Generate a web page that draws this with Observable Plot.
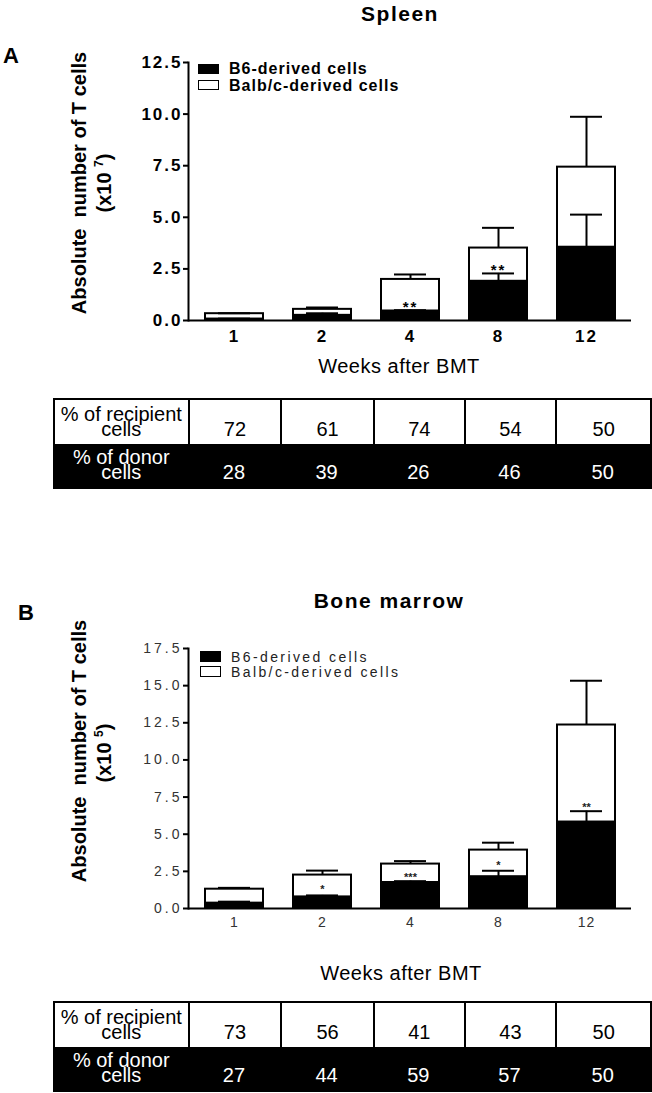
<!DOCTYPE html>
<html><head><meta charset="utf-8">
<script src="https://cdn.jsdelivr.net/npm/d3@7"></script>
<script src="https://cdn.jsdelivr.net/npm/@observablehq/plot@0.6"></script>
<style>
body{margin:0;background:#fff;}
#page{position:relative;width:652px;height:1093px;overflow:hidden;font-family:"Liberation Sans",Arial,sans-serif;color:#000;background:#fff;}
.abs{position:absolute;white-space:pre;line-height:1;}
.cx{transform:translate(-50%,-50%);}
.cy{transform:translate(0,-50%);}
.ylab{position:absolute;white-space:pre;line-height:1;transform:translate(-50%,-50%) rotate(-90deg);font-weight:bold;font-size:20px;}
.ylab sup{font-size:12px;vertical-align:8px;}
.sw{position:absolute;box-sizing:border-box;border:1.5px solid #000;}
.chart{position:absolute;left:0;}
.tbl{position:absolute;box-sizing:border-box;border:2px solid #000;font-size:20px;}
.row{display:flex;box-sizing:border-box;}
.cell{box-sizing:border-box;display:flex;align-items:flex-end;justify-content:center;text-align:center;line-height:15px;padding-bottom:7px;white-space:pre;}
.row.w .cell + .cell{border-left:2px solid #000;}
.row.b{background:#000;color:#fff;}
#chartB g[aria-label="y-axis tick label"] text{letter-spacing:3px;}
#chartB g[aria-label="x-axis tick label"] text{letter-spacing:1px;}
</style>
</head><body>
<div id="page"></div>
<script>
// ---- data ----
const weeks = ["1", "2", "4", "8", "12"];

const spleenB6 = [0.07, 0.25, 0.46, 1.90, 3.55];
const spleenBalb = [0.26, 0.29, 1.53, 1.61, 3.88];
const spleenTotalSem = [0.02, 0.09, 0.24, 0.98, 2.44];
const spleenB6Sem = [0.02, 0.10, 0.04, 0.38, 1.58];
const spleenSig = ["", "", "**", "**", ""];
const spleenSigY = [null, null, 0.83, 2.65, null];
const spleenTicks = [0, 2.5, 5, 7.5, 10, 12.5];
const spleenRecipient = [72, 61, 74, 54, 50];
const spleenDonor = [28, 39, 26, 46, 50];

const bmB6 = [0.36, 0.78, 1.75, 2.14, 5.82];
const bmBalb = [0.94, 1.47, 1.24, 1.79, 6.53];
const bmTotalSem = [0.09, 0.30, 0.20, 0.50, 2.98];
const bmB6Sem = [0.10, 0.10, 0.09, 0.40, 0.73];
const bmSig = ["", "*", "***", "*", "**"];
const bmSigY = [null, 1.46, 2.30, 3.07, 7.00];
const bmTicks = [0, 2.5, 5, 7.5, 10, 12.5, 15, 17.5];
const bmRecipient = [73, 56, 41, 43, 50];
const bmDonor = [27, 44, 59, 57, 50];

const legendLabels = ["B6-derived cells", "Balb/c-derived cells"];

// ---- page ----
const page = document.getElementById("page");
function add(html, cls, style) {
  const d = document.createElement("div");
  d.className = cls;
  d.setAttribute("style", style);
  d.innerHTML = html;
  page.appendChild(d);
  return d;
}

function buildChart(cfg) {
  const rows = weeks.map((w, i) => ({
    week: w,
    b6: cfg.b6[i],
    total: cfg.b6[i] + cfg.balb[i],
    totalTop: cfg.b6[i] + cfg.balb[i] + cfg.totalSem[i],
    b6Top: cfg.b6[i] + cfg.b6Sem[i],
    sig: cfg.sig[i],
    sigY: cfg.sigY[i]
  }));
  return Plot.plot({
    width: 652,
    height: cfg.height,
    marginLeft: 188,
    marginRight: 21,
    marginTop: cfg.mt,
    marginBottom: cfg.mb,
    style: cfg.style,
    x: {domain: weeks, paddingInner: 0.345, paddingOuter: 0.1725, label: null},
    y: {domain: [0, cfg.max], label: null},
    marks: [
      Plot.barY(rows, {x: "week", y: "total", fill: "white", stroke: "black", strokeWidth: cfg.sw}),
      Plot.barY(rows, {x: "week", y: "b6", fill: "black", stroke: "black", strokeWidth: cfg.sw}),
      Plot.ruleX(rows, {x: "week", y1: "total", y2: "totalTop", stroke: "black", strokeWidth: cfg.sw}),
      Plot.tickY(rows, {x: "week", y: "totalTop", stroke: "black", strokeWidth: cfg.sw, insetLeft: 13, insetRight: 13}),
      Plot.ruleX(rows, {x: "week", y1: "b6", y2: "b6Top", stroke: "black", strokeWidth: cfg.sw}),
      Plot.tickY(rows, {x: "week", y: "b6Top", stroke: "black", strokeWidth: cfg.sw, insetLeft: 13, insetRight: 13}),
      Plot.text(rows.filter(d => d.sig), {x: "week", y: "sigY", text: "sig", fontSize: cfg.sigSize, fontWeight: "bold", fill: cfg.sigColor, dy: cfg.sigSize * 0.28}),
      Plot.ruleY([0], {stroke: "black", strokeWidth: cfg.sw}),
      Plot.frame({anchor: "left", stroke: "black", strokeWidth: cfg.sw}),
      Plot.axisY({ticks: cfg.ticks, tickFormat: ".1f", tickSize: 5, tickPadding: 1, strokeWidth: cfg.sw, fill: cfg.tickColor, stroke: "black"}),
      Plot.axisX({tickSize: 0, tickPadding: 9, fill: cfg.tickColor})
    ]
  });
}

// Panel A
add("Spleen", "abs cx", "left:400px;top:13px;font-size:21px;font-weight:bold;letter-spacing:1.5px;");
add("A", "abs cx", "left:11px;top:56px;font-size:22px;font-weight:bold;");
const chartA = buildChart({
  b6: spleenB6, balb: spleenBalb, totalSem: spleenTotalSem, b6Sem: spleenB6Sem,
  sig: spleenSig, sigY: spleenSigY, ticks: spleenTicks, max: 12.5,
  height: 345, mt: 62, mb: 25, sw: 2, sigSize: 15, sigColor: "black", tickColor: "black",
  style: "font-family:'Liberation Sans',Arial,sans-serif;font-size:17px;font-weight:bold;letter-spacing:2px;color:#000;background:transparent;overflow:visible;"
});
const wa = document.createElement("div");
wa.className = "chart"; wa.id = "chartA"; wa.style.top = "0px";
wa.appendChild(chartA); page.appendChild(wa);
add("Absolute  number of T cells", "ylab", "left:79px;top:183px;");
add("(x10 <sup>7</sup>)", "ylab", "left:103px;top:183px;");
add("", "sw", "left:198px;top:64px;width:21px;height:10px;background:#000;");
add("", "sw", "left:198px;top:80px;width:21px;height:10px;background:#fff;");
add(legendLabels[0], "abs cy", "left:229px;top:69px;font-size:16px;font-weight:bold;letter-spacing:1px;");
add(legendLabels[1], "abs cy", "left:229px;top:86px;font-size:16px;font-weight:bold;letter-spacing:1px;");
add("Weeks after BMT", "abs cx", "left:399px;top:366px;font-size:20px;letter-spacing:0.5px;");

// Panel B
add("Bone marrow", "abs cx", "left:389px;top:600px;font-size:21px;font-weight:bold;letter-spacing:1.5px;");
add("B", "abs cx", "left:26px;top:613px;font-size:22px;font-weight:bold;");
const chartB = buildChart({
  b6: bmB6, balb: bmBalb, totalSem: bmTotalSem, b6Sem: bmB6Sem,
  sig: bmSig, sigY: bmSigY, ticks: bmTicks, max: 17.5,
  height: 338, mt: 48, mb: 30, sw: 2, sigSize: 11, sigColor: "#222", tickColor: "#333",
  style: "font-family:'Liberation Sans',Arial,sans-serif;font-size:14px;font-weight:normal;color:#000;background:transparent;overflow:visible;"
});
const wb = document.createElement("div");
wb.className = "chart"; wb.id = "chartB"; wb.style.top = "600px";
wb.appendChild(chartB); page.appendChild(wb);
add("Absolute  number of T cells", "ylab", "left:79px;top:751px;");
add("(x10 <sup>5</sup>)", "ylab", "left:103px;top:753px;");
add("", "sw", "left:200px;top:651px;width:21px;height:11px;background:#000;");
add("", "sw", "left:200px;top:666px;width:21px;height:11px;background:#fff;");
add(legendLabels[0], "abs cy", "left:231px;top:657px;font-size:14px;letter-spacing:2.4px;color:#222;");
add(legendLabels[1], "abs cy", "left:231px;top:672px;font-size:14px;letter-spacing:2.4px;color:#222;");
add("Weeks after BMT", "abs cx", "left:401px;top:973px;font-size:20px;letter-spacing:0.5px;");

// Tables
const colW = [135, 93, 93, 91, 92, 95];
function addTable(top, recipient, donor) {
  const t = document.createElement("div");
  t.className = "tbl";
  t.style.left = "53px"; t.style.top = top + "px"; t.style.width = "599px"; t.style.height = "91px";
  const mk = (cls, label, vals) => {
    const r = document.createElement("div");
    r.className = "row " + cls;
    r.style.height = "43.5px";
    [label, ...vals.map(String)].forEach((txt, i) => {
      const c = document.createElement("div");
      c.className = "cell";
      c.style.width = (colW[i] - (i === 0 ? 2 : 0)) + "px";
      c.textContent = txt;
      r.appendChild(c);
    });
    t.appendChild(r);
  };
  mk("w", "% of recipient\ncells", recipient);
  mk("b", "% of donor\ncells", donor);
  page.appendChild(t);
}
addTable(398, spleenRecipient, spleenDonor);
addTable(1001, bmRecipient, bmDonor);
</script>
</body></html>
